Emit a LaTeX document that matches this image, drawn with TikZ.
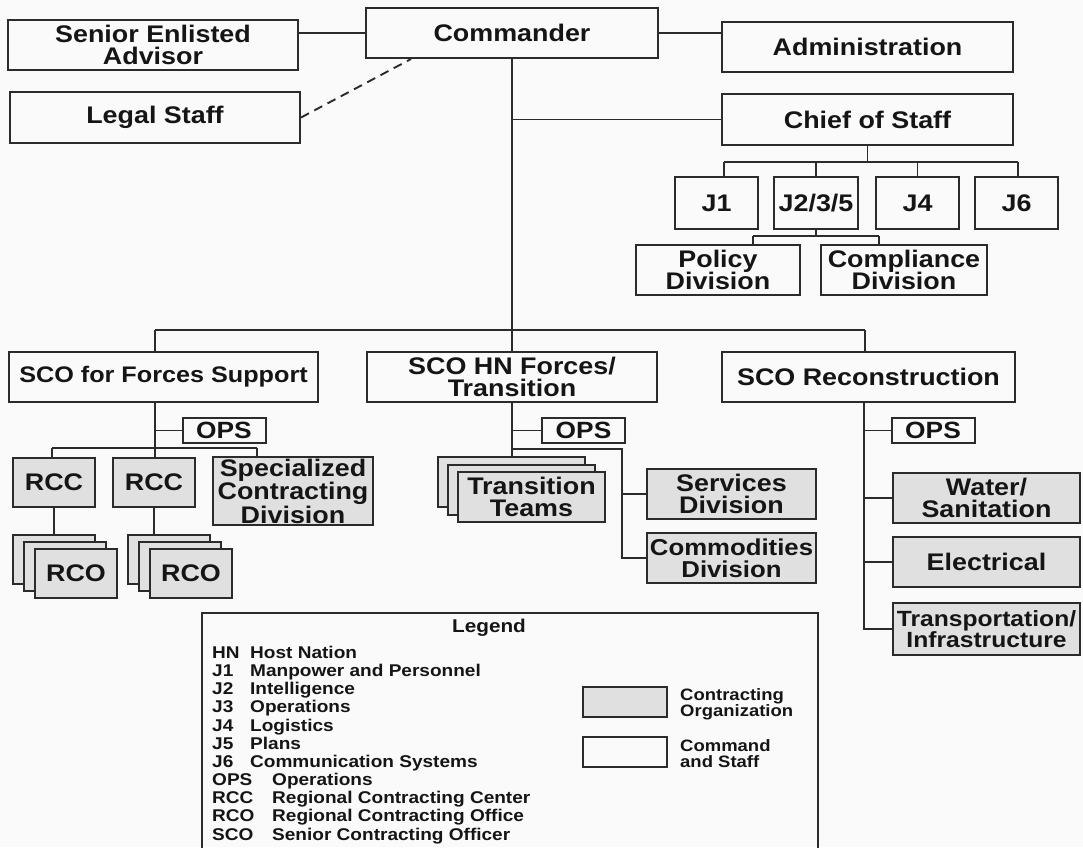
\documentclass[tikz,border=0pt]{standalone}
\usepackage{fontspec}
\setmainfont{Liberation Sans}[FakeStretch=1.12]
\usetikzlibrary{calc}
\definecolor{lc}{HTML}{2B2B2B}
\definecolor{gfill}{HTML}{E0E0E0}
\definecolor{bg}{HTML}{FAFAFA}
\definecolor{tc}{HTML}{151515}
\tikzset{
  box/.style={draw=lc, line width=2pt, fill=bg, minimum height=50pt, inner sep=0pt,
    align=center, text=tc, font=\bfseries\fontsize{24}{22.5}\selectfont},
  gbox/.style={box, fill=gfill},
  opsbox/.style={box, minimum width=83pt, minimum height=25pt, font=\bfseries\fontsize{23.5}{20}\selectfont},
  conn/.style={draw=lc, line width=1.9pt},
  legtxt/.style={anchor=base west, inner sep=0pt, text=tc, font=\bfseries\fontsize{17}{18}\selectfont},
}
\begin{document}
\begin{tikzpicture}[x=1pt,y=-1pt]
\fill[bg] (0,0) rectangle (1083,847);
\useasboundingbox (0,0) rectangle (1083,847);

% top level
\node[box,minimum width=290pt] (sea) at (153,45) {Senior Enlisted\\Advisor};
\node[box,minimum width=292pt] (cmd) at (512,33) {Commander};
\node[box,minimum width=291pt] (adm) at (867.5,47) {Administration};
\node[box,minimum width=290pt,minimum height=51pt] (legal) at (155,117.5) {Legal Staff};
\node[box,minimum width=291pt,minimum height=51pt] (cos) at (867.5,119.5) {Chief of Staff};

% J staff
\node[box,minimum width=83pt,minimum height=52pt] (j1) at (716.5,203) {J1};
\node[box,minimum width=84pt,minimum height=52pt] (j235) at (816,203) {J2/3/5};
\node[box,minimum width=83pt,minimum height=52pt] (j4) at (917.5,203) {J4};
\node[box,minimum width=83pt,minimum height=52pt] (j6) at (1016.5,203) {J6};
\node[box,minimum width=164pt] (pol) at (718,270) {Policy\\Division};
\node[box,minimum width=166pt] (cpl) at (904,270) {Compliance\\Division};

% SCOs
\node[box,minimum width=309pt,font=\bfseries\fontsize{22.5}{20}\selectfont] (scof) at (163.5,377) {SCO for Forces Support};
\node[box,minimum width=290pt] (scohn) at (512,377) {SCO HN Forces/\\Transition};
\node[box,minimum width=293pt] (scor) at (868.5,377) {SCO Reconstruction};

\node[opsbox] (ops1) at (224,430.5) {OPS};
\node[opsbox] (ops2) at (583.5,430.5) {OPS};
\node[opsbox] (ops3) at (933,430.5) {OPS};

% Forces support branch
\node[gbox,minimum width=82pt,minimum height=49pt] (rcc1) at (54,482.5) {RCC};
\node[gbox,minimum width=82pt,minimum height=49pt] (rcc2) at (154,482.5) {RCC};
\node[gbox,minimum width=160pt,minimum height=68pt,font=\bfseries\fontsize{24}{21.5}\selectfont] (spec) at (293,491) {Specialized\\Contracting\\Division};
\node[gbox,minimum width=82pt,minimum height=49pt] (rcoA1) at (54,559.5) {};
\node[gbox,minimum width=82pt,minimum height=49pt] (rcoA2) at (65,566.5) {};
\node[gbox,minimum width=82pt,minimum height=49pt] (rcoA3) at (76,573.5) {RCO};
\node[gbox,minimum width=82pt,minimum height=49pt] (rcoB1) at (169,559.5) {};
\node[gbox,minimum width=82pt,minimum height=49pt] (rcoB2) at (180,566.5) {};
\node[gbox,minimum width=82pt,minimum height=49pt] (rcoB3) at (191,573.5) {RCO};

% HN branch
\node[gbox,minimum width=147pt,minimum height=50pt] (ttA) at (511.5,482) {};
\node[gbox,minimum width=147pt,minimum height=50pt] (ttB) at (521.5,489.5) {};
\node[gbox,minimum width=147pt,minimum height=50pt] (ttC) at (531.5,497) {Transition\\Teams};
\node[gbox,minimum width=169pt] (serv) at (731.5,494) {Services\\Division};
\node[gbox,minimum width=169pt,font=\bfseries\fontsize{23}{22}\selectfont] (comm) at (731.5,558) {Commodities\\Division};

% Reconstruction branch
\node[gbox,minimum width=187pt] (water) at (986.5,498) {Water/\\Sanitation};
\node[gbox,minimum width=187pt] (elec) at (986.5,562) {Electrical};
\node[gbox,minimum width=187pt,minimum height=52pt,font=\bfseries\fontsize{22}{21}\selectfont] (trans) at (986.5,629) {Transportation/\\Infrastructure};

% connectors: top
\draw[conn] (cmd.west) -- (cmd.west -| sea.east);
\draw[conn] (cmd.east) -- (cmd.east -| adm.west);
\coordinate (cmdd) at ($(cmd.south west)+(46,0)$);
\draw[conn,dash pattern=on 9pt off 6pt] (legal.east) -- (cmdd);
\coordinate (busL) at (155,330);
\coordinate (busR) at (865,330);
\draw[conn] (cmd.south) -- (cmd.south |- busL);
\draw[conn] (cmd.south |- cos.west) -- (cos.west);
\draw[conn] (busL) -- (busR);
\draw[conn] (busL) -- (busL |- scof.north);
\draw[conn] (cmd.south |- busL) -- (scohn.north);
\draw[conn] (busR) -- (busR |- scor.north);

% J bus
\coordinate (jL) at (724,162);
\coordinate (jR) at (1018,162);
\draw[conn] (cos.south) -- (cos.south |- jL);
\draw[conn] (jL) -- (jR);
\draw[conn] (jL) -- (jL |- j1.north);
\draw[conn] (j235.north) -- (j235.north |- jL);
\draw[conn] (j4.north) -- (j4.north |- jL);
\draw[conn] (jR) -- (jR |- j6.north);
\coordinate (pL) at (753,236);
\coordinate (pR) at (879,236);
\draw[conn] (j235.south) -- (j235.south |- pL);
\draw[conn] (pL) -- (pR);
\draw[conn] (pL) -- (pL |- pol.north);
\draw[conn] (pR) -- (pR |- cpl.north);

% forces support connectors
\coordinate (fv) at (155,448);
\coordinate (rL) at (52,448);
\coordinate (rR) at (257,448);
\draw[conn] (scof.south -| fv) -- (fv);
\draw[conn] (ops1.west -| fv) -- (ops1.west);
\draw[conn] (rL) -- (rR);
\draw[conn] (rL) -- (rL |- rcc1.north);
\draw[conn] (fv) -- (fv |- rcc2.north);
\draw[conn] (rR) -- (rR |- spec.north);
\draw[conn] (rcc1.south) -- (rcc1.south |- rcoA1.north);
\draw[conn] (rcc2.south) -- (rcc2.south |- rcoB1.north);

% HN connectors
\coordinate (hc) at (622,449);
\draw[conn] (scohn.south) -- (scohn.south |- ttA.north);
\draw[conn] (ops2.west -| scohn.south) -- (ops2.west);
\draw[conn] (hc -| scohn.south) -- (hc) -- (hc |- comm.west) -- (comm.west);
\draw[conn] (hc |- serv.west) -- (serv.west);

% Reconstruction connectors
\coordinate (rv) at (864,400);
\draw[conn] (scor.south -| rv) -- (rv |- trans.west) -- (trans.west);
\draw[conn] (ops3.west -| rv) -- (ops3.west);
\draw[conn] (water.west -| rv) -- (water.west);
\draw[conn] (elec.west -| rv) -- (elec.west);

% legend
\node[draw=lc, line width=2pt, minimum width=616pt, minimum height=267pt, inner sep=0pt] (leg) at (510,746.5) {};
\node[inner sep=0pt, text=tc, font=\bfseries\fontsize{18.5}{18}\selectfont] (legt) at (489,628) {Legend};
\foreach \ab/\de/\dx [count=\i] in {HN/Host Nation/38, J1/Manpower and Personnel/38, J2/Intelligence/38, J3/Operations/38, J4/Logistics/38, J5/Plans/38, J6/Communication Systems/38, OPS/Operations/60, RCC/Regional Contracting Center/60, RCO/Regional Contracting Office/60, SCO/Senior Contracting Officer/60}
  \node[legtxt] (lg\i) at (212,{658.5+18.15*(\i-1)}) {\makebox[\dx pt][l]{\ab}\de};
\node[draw=lc, line width=2pt, fill=gfill, minimum width=84pt, minimum height=30pt, inner sep=0pt] (swg) at (625,702) {};
\node[draw=lc, line width=2pt, fill=bg, minimum width=84pt, minimum height=30pt, inner sep=0pt] (sww) at (625,752) {};
\node[anchor=west, align=left, inner sep=0pt, text=tc, font=\bfseries\fontsize{16.5}{15.5}\selectfont] (swgt) at (680,704.5) {Contracting\\Organization};
\node[anchor=west, align=left, inner sep=0pt, text=tc, font=\bfseries\fontsize{16.5}{15.5}\selectfont] (swwt) at (680,753.5) {Command\\and Staff};
\end{tikzpicture}
\end{document}
